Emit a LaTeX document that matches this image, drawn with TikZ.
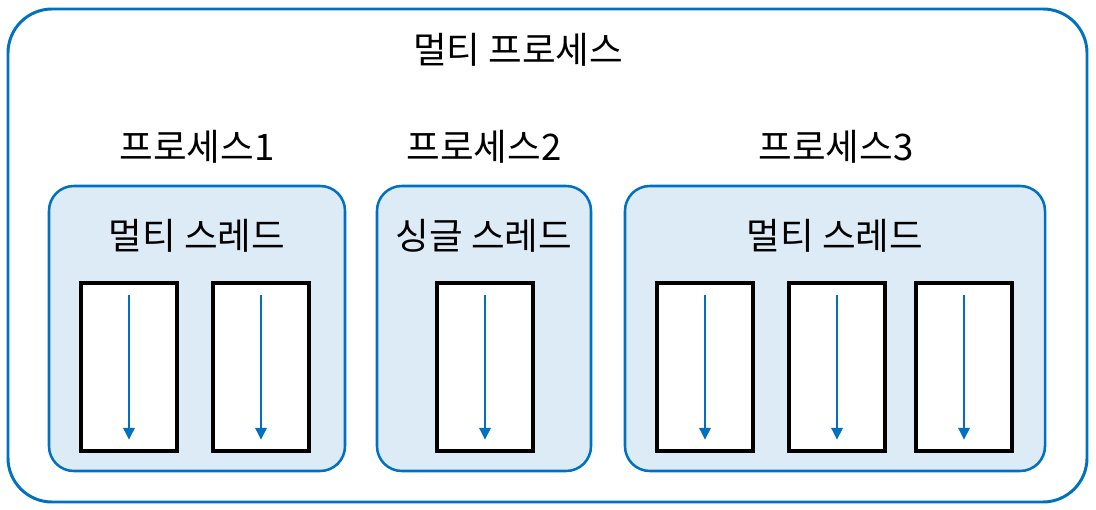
\documentclass[tikz,border=0pt]{standalone}
\usepackage{fontspec}
\setmainfont{Noto Sans CJK KR}
\usepackage{xcolor}
\usetikzlibrary{positioning,arrows.meta}
\definecolor{edgeblue}{HTML}{0070C0}
\definecolor{fillblue}{HTML}{DDEBF7}

\begin{document}
\begin{tikzpicture}[x=0.025cm, y=-0.025cm, >=latex,
  every node/.style={font=\fontsize{26}{30}\selectfont},
  procbox/.style={draw=edgeblue, line width=1.8pt, fill=fillblue, rounded corners=0.62cm},
  threadbox/.style={draw=black, line width=2.3pt, fill=white, minimum width=2.4cm, minimum height=4.2cm, inner sep=0pt},
  flow/.style={draw=edgeblue, line width=1.8pt, -{Triangle[width=0.28cm,length=0.3cm]}}]
\useasboundingbox (0,0) rectangle (1096,510);
\draw[draw=edgeblue, line width=2.1pt, rounded corners=1.1cm] (8,9) rectangle (1087,502);
\node (multi) at (518,50) {멀티 프로세스};
% processes
\node (lab1) at (197,147) {프로세스1};
\node (lab2) at (484,147) {프로세스2};
\node (lab3) at (836,147) {프로세스3};
\draw[procbox] (49,186) rectangle (345,471);
\draw[procbox] (377,186) rectangle (591,471);
\draw[procbox] (625,186) rectangle (1045,471);
\node (kind1) at (197,236) {멀티 스레드};
\node (kind2) at (484,236) {싱글 스레드};
\node (kind3) at (835,236) {멀티 스레드};
% threads
\node[threadbox] (t1) at (129,367) {};
\node[threadbox] (t2) at (261,367) {};
\node[threadbox] (t3) at (485,367) {};
\node[threadbox] (t4) at (705,367) {};
\node[threadbox] (t5) at (837,367) {};
\node[threadbox] (t6) at (964,367) {};
\draw[flow] ([yshift=-0.35cm]t1.north) -- ([yshift=0.32cm]t1.south);
\draw[flow] ([yshift=-0.35cm]t2.north) -- ([yshift=0.32cm]t2.south);
\draw[flow] ([yshift=-0.35cm]t3.north) -- ([yshift=0.32cm]t3.south);
\draw[flow] ([yshift=-0.35cm]t4.north) -- ([yshift=0.32cm]t4.south);
\draw[flow] ([yshift=-0.35cm]t5.north) -- ([yshift=0.32cm]t5.south);
\draw[flow] ([yshift=-0.35cm]t6.north) -- ([yshift=0.32cm]t6.south);
\end{tikzpicture}
\end{document}
